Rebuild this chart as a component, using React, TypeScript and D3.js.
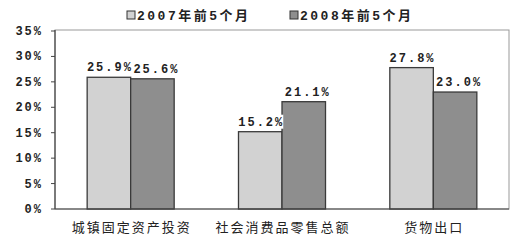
import React from "react";
import * as d3 from "d3";

const categories = ["城镇固定资产投资", "社会消费品零售总额", "货物出口"];
const seriesNames = ["2007年前5个月", "2008年前5个月"];
const values2007 = [25.9, 15.2, 27.8];
const values2008 = [25.6, 21.1, 23.0];
const yTicks = [0, 5, 10, 15, 20, 25, 30, 35];

const W = 521, H = 240;
const M = { left: 55, right: 12, top: 31, bottom: 31 };
const colors = ["#d2d2d2", "#8e8e8e"];

export default function App() {
  const x = d3.scaleBand().domain(categories).range([M.left, W - M.right]).paddingInner(0.425).paddingOuter(0.2125);
  const xs = d3.scaleBand().domain(["0", "1"]).range([0, x.bandwidth()]);
  const y = d3.scaleLinear().domain([0, 35]).range([H - M.bottom, M.top]);
  const series = [values2007, values2008];
  const mono = "'Liberation Mono', 'Noto Sans CJK SC', monospace";
  const ls = 2;
  return (
    <svg width={W} height={H} style={{ position: "absolute", left: 0, top: 0, background: "#fff" }}>
      <rect x={M.left} y={M.top - 1} width={W - M.right - M.left} height={H - M.bottom - M.top + 1} fill="none" stroke="#999" strokeWidth={1} />
      {series.map((vals, si) =>
        vals.map((v, i) => {
          const bx = (x(categories[i]) as number) + (xs(String(si)) as number);
          return (
            <rect key={`${si}-${i}`} x={bx} y={y(v)} width={xs.bandwidth()} height={y(0) - y(v)} fill={colors[si]} stroke="#3a3a3a" strokeWidth={1.3} />
          );
        })
      )}
      {series.map((vals, si) =>
        vals.map((v, i) => {
          const bx = (x(categories[i]) as number) + (xs(String(si)) as number) + xs.bandwidth() / 2 + (si === 1 ? 3 : 0);
          const t = v.toFixed(1) + "%";
          return (
            <g key={`l${si}-${i}`}>
              {si === 0 && i === 1 && <rect x={bx - 23} y={y(v) - 17} width={46} height={14} fill="#fff" />}
              <text x={bx + ls / 2} y={y(v) - 6} textAnchor="middle" fontFamily={mono} fontSize={12} fontWeight="bold" letterSpacing={ls} fill="#222">{t}</text>
            </g>
          );
        })
      )}
      <line x1={M.left} x2={M.left} y1={M.top - 1} y2={H - M.bottom} stroke="#444" strokeWidth={1.2} />
      <line x1={M.left} x2={W - M.right} y1={H - M.bottom} y2={H - M.bottom} stroke="#444" strokeWidth={1.2} />
      {yTicks.map((t) => (
        <g key={t}>
          <line x1={M.left - 4} x2={M.left} y1={y(t)} y2={y(t)} stroke="#444" />
          <text x={43} y={y(t) + 4} textAnchor="end" fontFamily={mono} fontSize={12} fontWeight="bold" letterSpacing={2} fill="#222">{t}%</text>
        </g>
      ))}
      {categories.map((c) => (
        <text key={c} x={(x(c) as number) + x.bandwidth() / 2 + 1} y={232} textAnchor="middle" fontFamily="'Noto Sans CJK SC', sans-serif" fontSize={13} letterSpacing={2} fill="#222">{c}</text>
      ))}
      {seriesNames.map((s, i) => {
        const lx = i === 0 ? 127 : 290;
        return (
          <g key={s}>
            <rect x={lx} y={11} width={8} height={8} fill={colors[i]} stroke="#333" strokeWidth={1} />
            <text x={lx + 10} y={20} fontFamily={mono} fontSize={13} fontWeight="bold" letterSpacing={2.5} fill="#222">{s}</text>
          </g>
        );
      })}
    </svg>
  );
}
